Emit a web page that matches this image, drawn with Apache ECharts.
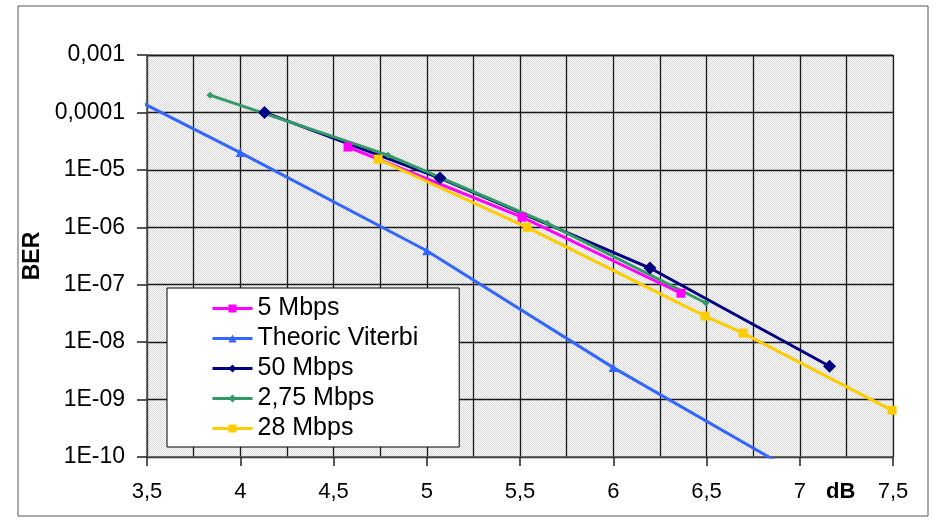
<!DOCTYPE html>
<html>
<head>
<meta charset="utf-8">
<script src="https://cdn.jsdelivr.net/npm/echarts@6/dist/echarts.min.js"></script>
<style>
html,body{margin:0;padding:0;background:#fff;}
#chart{width:947px;height:522px;}
</style>
</head>
<body>
<div id="chart"></div>
<script>
// ---- data ----
const seriesNames = ['5 Mbps', 'Theoric Viterbi', '50 Mbps', '2,75 Mbps', '28 Mbps'];

const x5 = [4.578, 5.511, 6.363];
const y5 = [2.5e-5, 1.5e-6, 7.1e-8];

const xViterbi = [3, 4, 5, 6, 7];
const yViterbi = [8.9e-4, 2.0e-5, 3.9e-7, 3.6e-9, 4.9e-11];

const x50 = [4.13, 5.071, 6.197, 7.16];
const y50 = [1.0e-4, 7.2e-6, 1.95e-7, 3.8e-9];

const x275 = [3.838, 4.792, 5.645, 6.497];
const y275 = [2.0e-4, 1.8e-5, 1.18e-6, 4.8e-8];

const x28 = [4.739, 5.538, 6.492, 6.696, 7.495];
const y28 = [1.54e-5, 1.0e-6, 2.84e-8, 1.44e-8, 6.5e-10];

const xTickValues = [3.5, 4, 4.5, 5, 5.5, 6, 6.5, 7, 7.5];
const xTickLabels = ['3,5', '4', '4,5', '5', '5,5', '6', '6,5', '7', '7,5'];
const yTickExponents = [-10, -9, -8, -7, -6, -5, -4, -3];
const yTickLabels = ['1E-10', '1E-09', '1E-08', '1E-07', '1E-06', '1E-05', '0,0001', '0,001'];

const colors = ['#ff00ff', '#3366ff', '#000080', '#339966', '#ffcc00'];
const symbols = ['rect', 'triangle', 'diamond', 'diamond', 'rect'];
const symbolSizes = [9, 9, 13, 7, 9];

function pairs(xs, ys) { return xs.map((x, i) => [x, ys[i]]); }
const allData = [pairs(x5, y5), pairs(xViterbi, yViterbi), pairs(x50, y50), pairs(x275, y275), pairs(x28, y28)];

// dotted plot-area pattern
const pc = document.createElement('canvas');
pc.width = 2; pc.height = 2;
const pctx = pc.getContext('2d');
pctx.fillStyle = '#fbfbfb'; pctx.fillRect(0, 0, 2, 2);
pctx.fillStyle = '#d9d9d9'; pctx.fillRect(0, 0, 1, 1); pctx.fillRect(1, 1, 1, 1);

const FONT = '"Liberation Sans", Arial, sans-serif';

const chart = echarts.init(document.getElementById('chart'));
chart.setOption({
  animation: false,
  backgroundColor: '#fff',
  grid: {
    left: 147, right: 54, top: 55, bottom: 65,
    show: true,
    backgroundColor: { image: pc, repeat: 'repeat' },
    borderColor: '#b5b5b5', borderWidth: 1
  },
  xAxis: {
    type: 'value', min: 3.5, max: 7.5, interval: 0.5,
    axisLine: { show: true, onZero: false, lineStyle: { color: '#555', width: 1.5 } },
    axisTick: { show: true, inside: false, length: 9, lineStyle: { color: '#222', width: 1.5 } },
    axisLabel: {
      margin: 24, color: '#000', fontSize: 22, fontFamily: FONT,
      formatter: function (v) {
        const i = xTickValues.findIndex(t => Math.abs(t - v) < 1e-6);
        return i >= 0 ? xTickLabels[i] : '';
      }
    },
    splitLine: { show: true, lineStyle: { color: '#1a1a1a', width: 1.3 } },
    minorTick: { show: false, splitNumber: 2 },
    minorSplitLine: { show: true, lineStyle: { color: '#1a1a1a', width: 1.3 } }
  },
  yAxis: {
    type: 'log', logBase: 10, min: 1e-10, max: 1e-3, interval: 1,
    name: 'BER', nameLocation: 'middle', nameGap: 97, nameRotate: 90,
    nameTextStyle: { fontSize: 23, fontWeight: 'bold', fontFamily: FONT, color: '#000' },
    axisLine: { show: true, lineStyle: { color: '#555', width: 1.5 } },
    axisTick: { show: true, inside: false, length: 10, lineStyle: { color: '#222', width: 1.5 } },
    axisLabel: {
      margin: 22, color: '#000', fontSize: 23, fontFamily: FONT,
      formatter: function (v) {
        const e = Math.round(Math.log10(v));
        const i = yTickExponents.indexOf(e);
        return i >= 0 ? yTickLabels[i] : '';
      }
    },
    splitLine: { show: true, lineStyle: { color: '#1a1a1a', width: 1.3 } }
  },
  legend: {
    orient: 'vertical', left: 167, top: 288,
    data: seriesNames,
    backgroundColor: '#fff', borderColor: '#000', borderWidth: 1,
    padding: [8, 41, 6, 44],
    itemWidth: 40, itemHeight: 10, itemGap: 5,
    lineStyle: { width: 3 },
    textStyle: { fontSize: 25, fontFamily: FONT, color: '#000', lineHeight: 24 }
  },
  graphic: [
    { type: 'rect', shape: { x: 18, y: 6, width: 910, height: 510 }, style: { fill: 'none', stroke: '#555', lineWidth: 1 }, silent: true, z: -10 },
    { type: 'text', left: 826, top: 481, style: { text: 'dB', fontSize: 22, fontWeight: 'bold', fontFamily: FONT, fill: '#000' } }
  ],
  series: seriesNames.map((name, i) => ({
    name: name,
    type: 'line',
    data: allData[i],
    color: colors[i],
    symbol: symbols[i],
    symbolSize: symbolSizes[i],
    showAllSymbol: true,
    clip: true,
    lineStyle: { width: 3, color: colors[i] },
    itemStyle: { color: colors[i] }
  }))
});
</script>
</body>
</html>
